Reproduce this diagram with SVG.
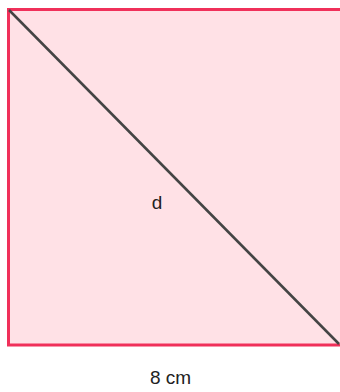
<svg xmlns="http://www.w3.org/2000/svg" width="340" height="392" viewBox="0 0 340 392">
<style>
.lbl{font-family:"Liberation Sans",Arial,sans-serif;font-size:19px;fill:#222}
</style>
<rect width="340" height="392" fill="#fff"/>
<g id="square">
<rect x="8.5" y="9.5" width="336" height="335.5" fill="#ffe1e6" stroke="#f0305a" stroke-width="3"/>
</g>
<g id="connectors">
<line x1="9" y1="10" x2="339" y2="344" stroke="#444" stroke-width="2.5"/>
</g>
<g id="labels">
<text class="lbl" x="157" y="209" text-anchor="middle">d</text>
<text class="lbl" x="170.5" y="384" text-anchor="middle">8 cm</text>
</g>
</svg>
